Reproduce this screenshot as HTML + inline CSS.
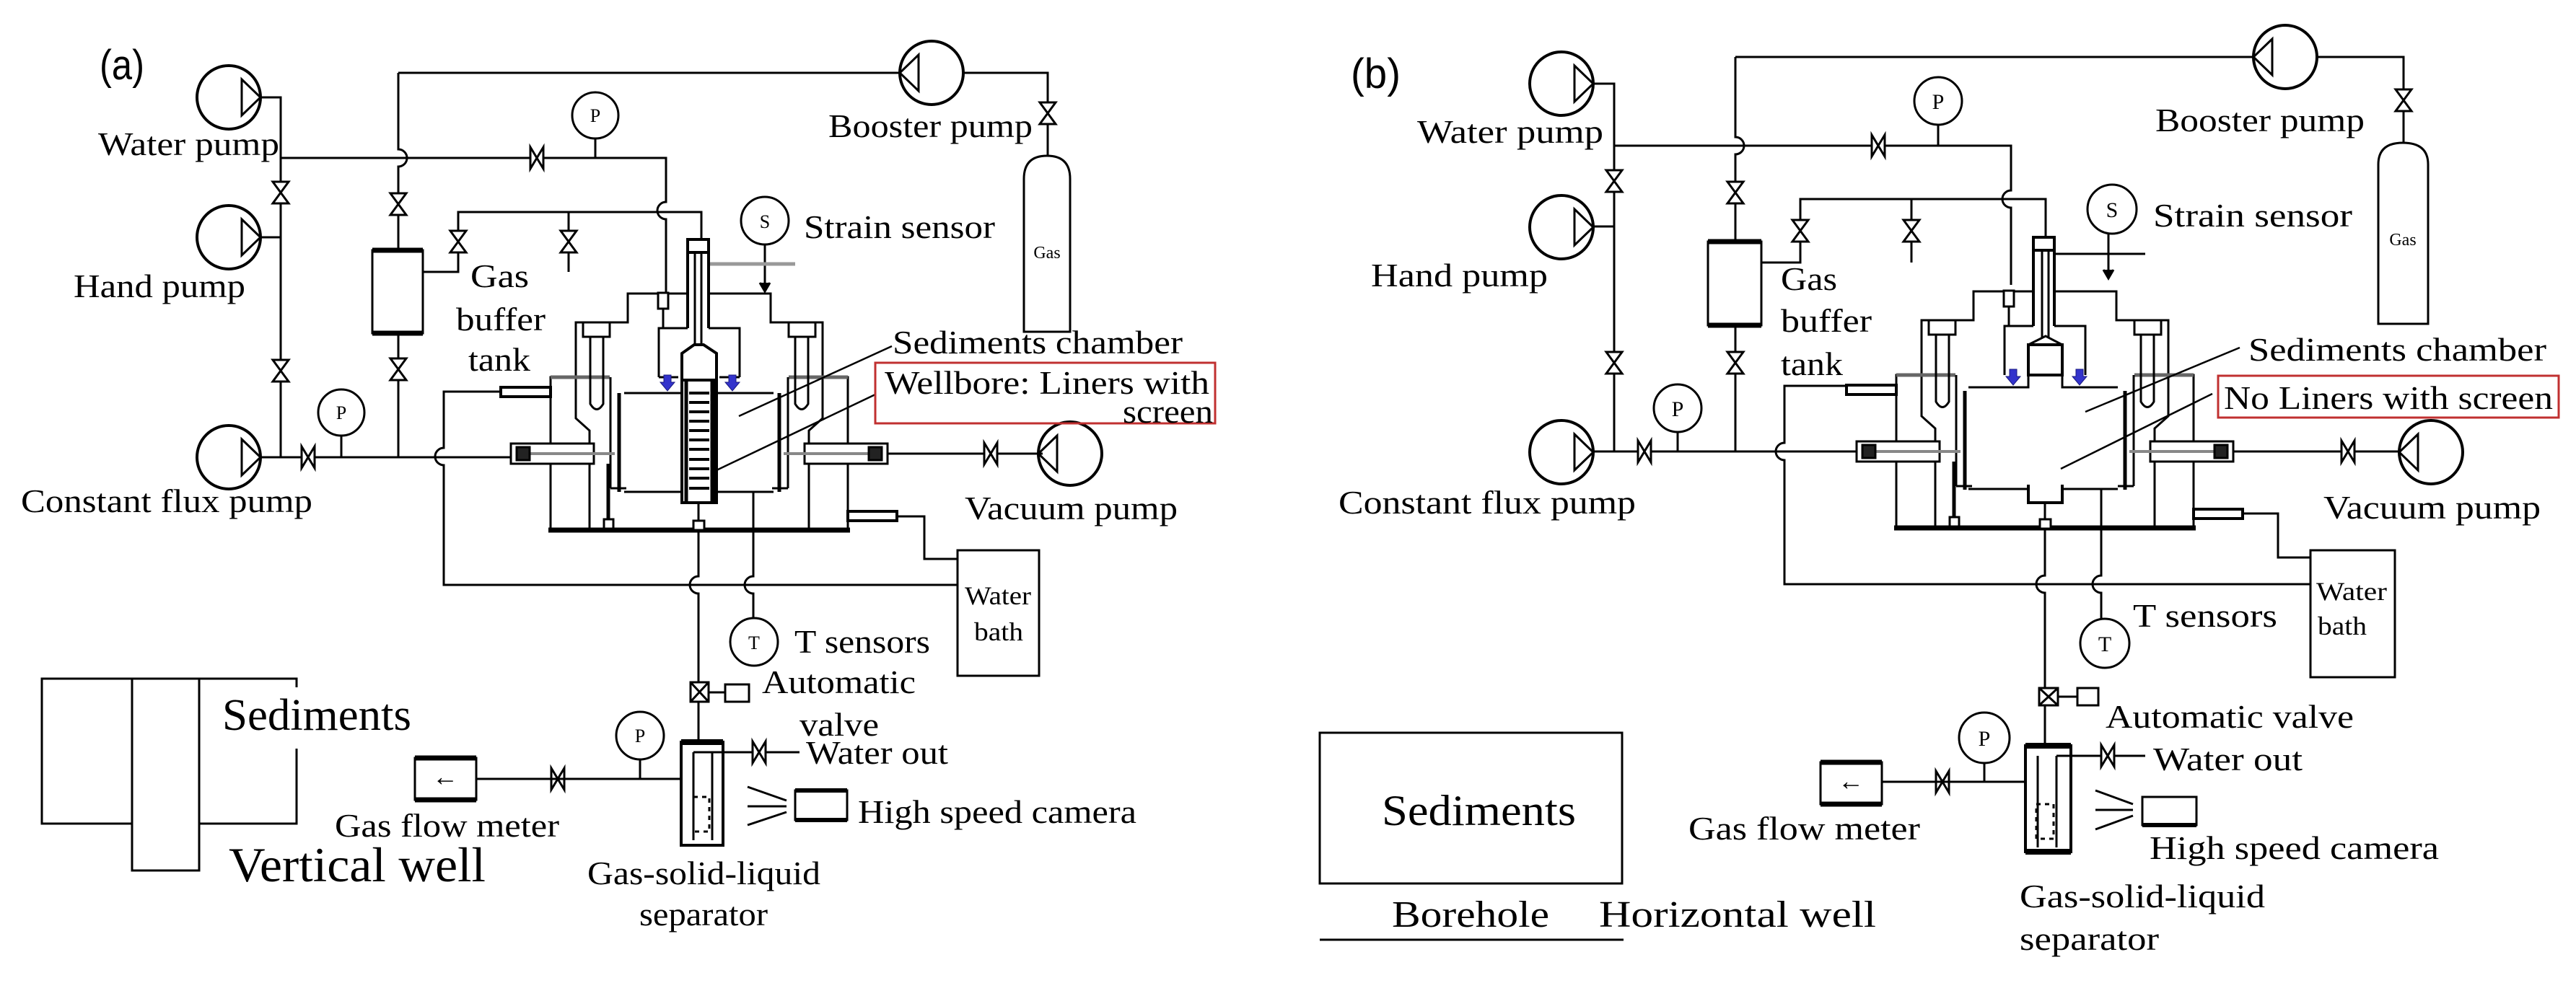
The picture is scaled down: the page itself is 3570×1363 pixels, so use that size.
<!DOCTYPE html>
<html><head><meta charset="utf-8"><style>
html,body{margin:0;padding:0;background:#fff}
svg{display:block}
text{font-family:"Liberation Serif",serif;fill:#000}
</style></head><body>
<svg width="3570" height="1363" viewBox="0 0 3570 1363" xmlns="http://www.w3.org/2000/svg">
<defs>
<g id="pumpR" fill="none" stroke="#000" stroke-width="4"><circle cx="0" cy="0" r="44"/><path d="M18,-25 L44,0 L18,25 Z" stroke-width="3"/></g>
<g id="pumpL" fill="none" stroke="#000" stroke-width="4"><circle cx="0" cy="0" r="44"/><path d="M-18,-25 L-44,0 L-18,25 Z" stroke-width="3"/></g>
<path id="vV" d="M-11,-15 H11 L-11,15 H11 Z" fill="#fff" stroke="#000" stroke-width="3"/>
<path id="vH" d="M-9,-15 V15 L9,-15 V15 Z" fill="#fff" stroke="#000" stroke-width="3"/>
<g id="shell" fill="none" stroke="#000" stroke-width="3">
  <path d="M763,735 V523 H798"/>
  <path d="M1139,523 H1175 V735"/>
  <path d="M760,735 H1178" stroke-width="7"/>
  <path d="M798,523 V447 H870 V407 H953 M982,407 H1068 V447 H1140 V523"/>
  <path d="M798,523 V580 L817,597 V735"/>
  <path d="M1140,523 V580 L1121,597 V735"/>
  <path d="M763,523 H845 M1093,523 H1175" stroke="#666" stroke-width="5"/>
  <path d="M846,523 V677 M1092,523 V677"/>
  <path d="M858,545 V682 M1080,545 V682" stroke-width="5"/>
  <path d="M846,677 H868 M1070,677 H1092"/>
  <path d="M913,523 V455 H953 M982,455 H1025 V523"/>
  <path d="M953,332 V455 M982,332 V455" stroke-width="4"/>
  <rect x="953" y="332" width="29" height="18" stroke-width="4"/>
  <rect x="808" y="447" width="37" height="20"/>
  <path d="M818,467 V560 Q827,575 836,560 V467"/>
  <rect x="1093" y="447" width="37" height="20"/>
  <path d="M1102,467 V560 Q1111,575 1120,560 V467"/>
  <rect x="708" y="615" width="115" height="28" fill="#fff"/>
  <path d="M733,629 H852" stroke="#888" stroke-width="4"/>
  <rect x="716" y="620" width="18" height="18" fill="#222"/>
  <rect x="1115" y="615" width="115" height="28" fill="#fff"/>
  <path d="M1086,629 H1205" stroke="#888" stroke-width="4"/>
  <rect x="1204" y="620" width="18" height="18" fill="#222"/>
  <rect x="694" y="537" width="69" height="13" fill="#fff" stroke-width="4"/>
  <rect x="1175" y="709" width="68" height="13" fill="#fff" stroke-width="4"/>
  <path d="M843,643 V722" stroke-width="5"/>
  <rect x="837" y="720" width="13" height="13" fill="#fff"/>
  <rect x="912" y="406" width="14" height="22" fill="#fff"/>
  <path d="M919,428 V455"/>
</g>
<path id="blueArrow" d="M-5,-12 H5 V-2 H10 L0,10 L-10,-2 H-5 Z" fill="#3333cc" stroke="#1a1a80" stroke-width="1"/>
</defs>

<!-- ================= PANEL A ================= -->
<g fill="none" stroke="#000" stroke-width="3">
  <path d="M361,135 H389 V634 M361,329 H389 M361,634 H715"/>
  <path d="M389,219 H923 V280 a12,12 0 0 0 0,24 V406"/>
  <path d="M825,193 V219"/>
  <path d="M552,101 V207 a12,12 0 0 1 0,24 V347 M552,462 V634"/>
  <rect x="516" y="347" width="70" height="115"/>
  <path d="M516,347 H586 M516,462 H586" stroke-width="7"/>
  <path d="M552,101 H1247 M1335,101 H1452 V216"/>
  <path d="M1419,460 V248 Q1419,216 1451,216 Q1483,216 1483,248 V460 Z"/>
  <path d="M586,377 H635 V294 H972 V332 M788,294 V377"/>
  <path d="M1060,339 V400"/>
  <path d="M1053,392 L1060,404 L1067,392" fill="#000"/>
  <path d="M982,366 H1102" stroke="#999" stroke-width="5"/>
  <path d="M694,543 H615 V621 a12,12 0 0 0 0,24 V811 H1327"/>
  <path d="M1243,716 H1281 V775 H1327"/>
  <path d="M1230,629 H1445"/>
  <path d="M968,735 V799 a12,12 0 0 0 0,24 V946 M968,973 V1029"/>
  <path d="M1044,682 V799 a12,12 0 0 0 0,24 V857"/>
  <rect x="1327" y="763" width="113" height="174"/>
</g>
<use href="#shell"/>
<g fill="none" stroke="#000" stroke-width="3">
  <path d="M963,350 V478 M972,350 V478"/>
  <path d="M945,527 V490 L962,478 H975 L993,490 V527 Z" fill="#fff" stroke-width="4"/>
  <rect x="945" y="527" width="48" height="170" fill="#fff" stroke-width="4"/>
  <path d="M988,527 V697" stroke-width="7"/>
  <path d="M951,527 V697" stroke-width="5"/>
  <path d="M955,545 H983 M955,558 H983 M955,571 H983 M955,584 H983 M955,597 H983 M955,610 H983 M955,623 H983 M955,637 H983 M955,650 H983 M955,663 H983 M955,677 H983" stroke-width="4"/>
  <path d="M865,545 H945 M993,545 H1072 M865,682 H945 M993,682 H1072"/>
  <path d="M913,523 H940 M997,523 H1025"/>
  <path d="M968,697 V722"/>
  <rect x="961" y="722" width="15" height="13" fill="#fff"/>
  <path d="M1236,480 L1024,577 M1213,547 L993,652" stroke-width="2.5"/>
</g>
<use href="#blueArrow" x="925" y="532"/>
<use href="#blueArrow" x="1015" y="532"/>
<use href="#pumpR" x="317" y="135"/>
<use href="#pumpR" x="317" y="329"/>
<use href="#pumpR" x="317" y="634"/>
<use href="#pumpL" x="1291" y="101"/>
<use href="#pumpL" x="1483" y="629"/>
<use href="#vV" x="389" y="267"/><use href="#vV" x="389" y="514"/>
<use href="#vV" x="552" y="283"/><use href="#vV" x="552" y="512"/>
<use href="#vV" x="635" y="335"/><use href="#vV" x="788" y="335"/>
<use href="#vV" x="1452" y="157"/>
<use href="#vH" x="427" y="634"/><use href="#vH" x="744" y="219"/>
<use href="#vH" x="1373" y="629"/>
<use href="#vH" x="773" y="1080"/>
<g fill="#fff" stroke="#000" stroke-width="3">
<circle cx="473" cy="572" r="32"/><circle cx="825" cy="160" r="32"/>
<circle cx="1060" cy="306" r="33"/><circle cx="1045" cy="890" r="33"/>
<circle cx="887" cy="1020" r="33"/>
</g>
<path d="M473,604 V634 M887,1053 V1080" stroke="#000" stroke-width="3"/>
<g font-size="26" text-anchor="middle">
<text x="473" y="581">P</text><text x="825" y="169">P</text><text x="1060" y="316">S</text><text x="1045" y="900">T</text><text x="887" y="1029">P</text>
</g>
<g fill="none" stroke="#000" stroke-width="3">
  <rect x="957" y="946" width="25" height="27" fill="#fff"/>
  <path d="M957,946 L982,973 M982,946 L957,973"/>
  <path d="M982,960 H1005"/>
  <rect x="1005" y="949" width="33" height="24"/>
  <rect x="944" y="1029" width="58" height="143" stroke-width="4"/>
  <path d="M944,1029 H1002" stroke-width="8"/>
  <path d="M961,1043 V1165 M987,1043 V1165 M961,1043 H987 M987,1043 H1108"/>
  <rect x="961" y="1105" width="22" height="48" stroke-dasharray="6,6"/>
  <path d="M944,1080 H660"/>
  <rect x="575" y="1051" width="85" height="58"/>
  <path d="M575,1051 H660 M575,1109 H660" stroke-width="7"/>
  <path d="M1036,1091 L1090,1110 M1036,1118 H1090 M1036,1144 L1090,1126"/>
  <rect x="1102" y="1096" width="72" height="41"/>
  <path d="M1102,1096 H1174 M1102,1137 H1174" stroke-width="6"/>
  <path d="M411,953 V941 H58 V1142 H411 V1038"/>
  <rect x="183" y="941" width="93" height="266" fill="#fff"/>
</g>
<use href="#vH" x="1052" y="1043"/>
<rect x="1213" y="503" width="471" height="84" fill="none" stroke="#c03030" stroke-width="3"/>
<text x="138" y="110" font-size="58" textLength="62" lengthAdjust="spacingAndGlyphs" style="font-family:'Liberation Sans',sans-serif">(a)</text>
<g font-size="46">
<text x="136" y="215" textLength="251" lengthAdjust="spacingAndGlyphs">Water pump</text>
<text x="102" y="412" textLength="238" lengthAdjust="spacingAndGlyphs">Hand pump</text>
<text x="29" y="710" textLength="404" lengthAdjust="spacingAndGlyphs">Constant flux pump</text>
<text x="1148" y="190" textLength="283" lengthAdjust="spacingAndGlyphs">Booster pump</text>
<text x="652" y="398" textLength="81" lengthAdjust="spacingAndGlyphs">Gas</text>
<text x="632" y="458" textLength="124" lengthAdjust="spacingAndGlyphs">buffer</text>
<text x="649" y="514" textLength="86" lengthAdjust="spacingAndGlyphs">tank</text>
<text x="1114" y="330" textLength="265" lengthAdjust="spacingAndGlyphs">Strain sensor</text>
<text x="1237" y="490" textLength="402" lengthAdjust="spacingAndGlyphs">Sediments chamber</text>
<text x="1226" y="546" textLength="450" lengthAdjust="spacingAndGlyphs">Wellbore: Liners with</text>
<text x="1681" y="586" text-anchor="end" textLength="125" lengthAdjust="spacingAndGlyphs">screen</text>
<text x="1337" y="720" textLength="295" lengthAdjust="spacingAndGlyphs">Vacuum pump</text>
<text x="1101" y="905" textLength="188" lengthAdjust="spacingAndGlyphs">T sensors</text>
<text x="1056" y="961" textLength="213" lengthAdjust="spacingAndGlyphs">Automatic</text>
<text x="1108" y="1020" textLength="110" lengthAdjust="spacingAndGlyphs">valve</text>
<text x="1117" y="1059" textLength="197" lengthAdjust="spacingAndGlyphs">Water out</text>
<text x="1189" y="1141" textLength="386" lengthAdjust="spacingAndGlyphs">High speed camera</text>
<text x="464" y="1160" textLength="311" lengthAdjust="spacingAndGlyphs">Gas flow meter</text>
<text x="814" y="1226" textLength="323" lengthAdjust="spacingAndGlyphs">Gas-solid-liquid</text>
<text x="886" y="1283" textLength="178" lengthAdjust="spacingAndGlyphs">separator</text>
</g>
<text x="1337" y="838" font-size="36" textLength="92" lengthAdjust="spacingAndGlyphs">Water</text>
<text x="1350" y="888" font-size="36" textLength="68" lengthAdjust="spacingAndGlyphs">bath</text>
<text x="1451" y="358" font-size="24" text-anchor="middle">Gas</text>
<text x="617" y="1089" font-size="36" text-anchor="middle">←</text>
<text x="308" y="1012" font-size="62" textLength="262" lengthAdjust="spacingAndGlyphs">Sediments</text>
<text x="317" y="1222" font-size="68" textLength="356" lengthAdjust="spacingAndGlyphs">Vertical well</text>

<!-- ================= PANEL B ================= -->
<g fill="none" stroke="#000" stroke-width="3">
  <path d="M2208,116 H2237 V626 M2208,314 H2237 M2208,626 H2580"/>
  <path d="M2237,202 H2787 V264 a12,12 0 0 0 0,24 V395"/>
  <path d="M2686,173 V202"/>
  <path d="M2405,79 V190 a12,12 0 0 1 0,24 V335 M2405,451 V626"/>
  <rect x="2367" y="335" width="74" height="116"/>
  <path d="M2367,335 H2441 M2367,451 H2441" stroke-width="7"/>
  <path d="M2405,79 H3124 M3211,79 H3331 V198"/>
  <path d="M3296,449 V228 Q3296,198 3330,198 Q3365,198 3365,228 V449 Z"/>
  <path d="M2441,364 H2495 V276 H2835 V329 M2649,276 V364"/>
  <path d="M2922,323 V382"/>
  <path d="M2915,374 L2922,386 L2929,374" fill="#000"/>
  <path d="M2849,352 H2973"/>
  <path d="M2559,535 H2473 V614 a12,12 0 0 0 0,24 V810 H3202"/>
  <path d="M3108,712 H3157 V773 H3202"/>
  <path d="M3095,626 H3325"/>
  <path d="M2834,733 V798 a12,12 0 0 0 0,24 V954 M2834,978 V1034"/>
  <path d="M2912,678 V798 a12,12 0 0 0 0,24 V858"/>
  <rect x="3202" y="763" width="117" height="176"/>
</g>
<use href="#shell" transform="translate(1865,-3)"/>
<g fill="#fff" stroke="#000" stroke-width="3">
  <path d="M2830,347 V468 M2839,347 V468" fill="none"/>
  <path d="M2835,466 L2811,478 H2858 Z"/>
  <rect x="2811" y="478" width="47" height="42" stroke-width="4"/>
  <path d="M2728,537 H2811 V520 M2858,520 V537 H2935" fill="none"/>
  <path d="M2728,678 H2811 M2858,678 H2935" fill="none"/>
  <path d="M2811,672 V697 H2858 V672" fill="none" stroke-width="4"/>
  <path d="M2834,697 V722" fill="none"/>
  <rect x="2827" y="720" width="15" height="13"/>
  <path d="M3104,482 L2890,571 M3066,546 L2856,650" fill="none" stroke-width="2.5"/>
</g>
<use href="#blueArrow" x="2790" y="524"/>
<use href="#blueArrow" x="2882" y="524"/>
<use href="#pumpR" x="2164" y="116"/>
<use href="#pumpR" x="2164" y="315"/>
<use href="#pumpR" x="2164" y="627"/>
<use href="#pumpL" x="3167" y="79"/>
<use href="#pumpL" x="3369" y="627"/>
<use href="#vV" x="2237" y="251"/><use href="#vV" x="2237" y="503"/>
<use href="#vV" x="2405" y="267"/><use href="#vV" x="2405" y="503"/>
<use href="#vV" x="2495" y="320"/><use href="#vV" x="2649" y="320"/>
<use href="#vV" x="3331" y="139"/>
<use href="#vH" x="2279" y="626"/><use href="#vH" x="2603" y="202"/>
<use href="#vH" x="3254" y="626"/>
<use href="#vH" x="2692" y="1084"/>
<g fill="#fff" stroke="#000" stroke-width="3">
<circle cx="2325" cy="566" r="33"/><circle cx="2686" cy="140" r="33"/>
<circle cx="2927" cy="290" r="34"/><circle cx="2917" cy="892" r="34"/>
<circle cx="2750" cy="1023" r="35"/>
</g>
<path d="M2325,599 V626 M2750,1058 V1084" stroke="#000" stroke-width="3"/>
<g font-size="30" text-anchor="middle">
<text x="2325" y="577">P</text><text x="2686" y="151">P</text><text x="2927" y="301">S</text><text x="2917" y="903">T</text><text x="2750" y="1034">P</text>
</g>
<g fill="none" stroke="#000" stroke-width="3">
  <rect x="2826" y="954" width="26" height="24" fill="#fff"/>
  <path d="M2826,954 L2852,978 M2852,954 L2826,978"/>
  <path d="M2852,966 H2879"/>
  <rect x="2879" y="954" width="29" height="24"/>
  <rect x="2807" y="1034" width="63" height="147" stroke-width="4"/>
  <path d="M2807,1034 H2870 M2807,1181 H2870" stroke-width="8"/>
  <path d="M2824,1048 V1175 M2850,1048 V1175 M2850,1048 H2973"/>
  <rect x="2822" y="1115" width="24" height="48" stroke-dasharray="6,6"/>
  <path d="M2807,1084 H2608"/>
  <rect x="2523" y="1057" width="85" height="58"/>
  <path d="M2523,1057 H2608 M2523,1115 H2608" stroke-width="7"/>
  <path d="M2904,1096 L2956,1115 M2904,1123 H2956 M2904,1150 L2956,1131"/>
  <rect x="2969" y="1105" width="75" height="39"/>
  <path d="M2969,1144 H3044" stroke-width="6"/>
  <rect x="1829" y="1016" width="419" height="209"/>
  <path d="M1829,1303 H2250"/>
</g>
<use href="#vH" x="2921" y="1048"/>
<rect x="3074" y="521" width="472" height="58" fill="none" stroke="#c03030" stroke-width="3"/>
<text x="1872" y="122" font-size="58" textLength="69" lengthAdjust="spacingAndGlyphs" style="font-family:'Liberation Sans',sans-serif">(b)</text>
<g font-size="46">
<text x="1964" y="198" textLength="258" lengthAdjust="spacingAndGlyphs">Water pump</text>
<text x="1900" y="397" textLength="245" lengthAdjust="spacingAndGlyphs">Hand pump</text>
<text x="1855" y="712" textLength="412" lengthAdjust="spacingAndGlyphs">Constant flux pump</text>
<text x="2987" y="182" textLength="290" lengthAdjust="spacingAndGlyphs">Booster pump</text>
<text x="2468" y="402" textLength="78" lengthAdjust="spacingAndGlyphs">Gas</text>
<text x="2468" y="460" textLength="126" lengthAdjust="spacingAndGlyphs">buffer</text>
<text x="2468" y="520" textLength="86" lengthAdjust="spacingAndGlyphs">tank</text>
<text x="2984" y="314" textLength="276" lengthAdjust="spacingAndGlyphs">Strain sensor</text>
<text x="3116" y="500" textLength="413" lengthAdjust="spacingAndGlyphs">Sediments chamber</text>
<text x="3082" y="567" textLength="456" lengthAdjust="spacingAndGlyphs">No Liners with screen</text>
<text x="3220" y="719" textLength="301" lengthAdjust="spacingAndGlyphs">Vacuum pump</text>
<text x="2956" y="869" textLength="200" lengthAdjust="spacingAndGlyphs">T sensors</text>
<text x="2918" y="1009" textLength="344" lengthAdjust="spacingAndGlyphs">Automatic valve</text>
<text x="2984" y="1068" textLength="207" lengthAdjust="spacingAndGlyphs">Water out</text>
<text x="2979" y="1191" textLength="401" lengthAdjust="spacingAndGlyphs">High speed camera</text>
<text x="2340" y="1164" textLength="321" lengthAdjust="spacingAndGlyphs">Gas flow meter</text>
<text x="2799" y="1258" textLength="340" lengthAdjust="spacingAndGlyphs">Gas-solid-liquid</text>
<text x="2799" y="1317" textLength="193" lengthAdjust="spacingAndGlyphs">separator</text>
</g>
<text x="3210" y="832" font-size="36" textLength="98" lengthAdjust="spacingAndGlyphs">Water</text>
<text x="3212" y="880" font-size="36" textLength="68" lengthAdjust="spacingAndGlyphs">bath</text>
<text x="3330" y="340" font-size="24" text-anchor="middle">Gas</text>
<text x="2565" y="1095" font-size="36" text-anchor="middle">←</text>
<text x="1915" y="1144" font-size="60" textLength="269" lengthAdjust="spacingAndGlyphs">Sediments</text>
<text x="1929" y="1285" font-size="52" textLength="218" lengthAdjust="spacingAndGlyphs">Borehole</text>
<text x="2216" y="1285" font-size="52" textLength="384" lengthAdjust="spacingAndGlyphs">Horizontal  well</text>
</svg>
</body></html>
